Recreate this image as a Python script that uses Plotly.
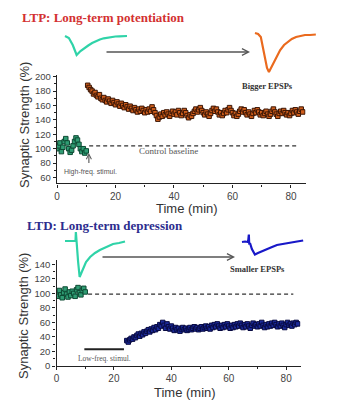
import plotly.graph_objects as go

W, H = 356, 411

# ---------------- data ----------------
sample_step = 0.5  # min between points

ltp_base_start = 0.0
ltp_base_vals = [100, 104, 108, 96, 102, 110, 114, 108, 100, 95, 98, 104, 110, 115,
                 112, 106, 100, 96, 100, 94, 97]

ltp_after_start = 10.5
ltp_after_vals = [188, 185, 182, 180, 176, 178, 174, 172, 175, 170, 168, 171, 167, 165,
                  169, 166, 163, 167, 164, 161, 165, 162, 159, 163, 160, 157, 161, 158,
                  155, 159, 156, 153, 157, 154, 151, 155, 152, 156, 153, 150, 154, 151,
                  155, 152, 158, 154, 150, 146, 141, 144, 148, 145, 150, 147, 151, 148,
                  145, 149, 152, 148, 151, 147, 153, 150, 146, 149, 153, 150, 146, 143,
                  147, 145, 149, 152, 155, 151, 154, 157, 153, 150, 147, 151, 148, 145,
                  149, 153, 156, 152, 155, 151, 147, 150, 146, 149, 153, 150, 154, 157,
                  153, 150, 146, 149, 145, 148, 152, 155, 151, 154, 150, 147, 151, 148,
                  145, 149, 153, 150, 154, 151, 147, 150, 146, 149, 152, 148, 145, 148,
                  152, 155, 151, 148, 145, 149, 152, 149, 153, 150, 147, 150, 146, 149,
                  153, 150, 154, 151, 148, 152, 155, 151]

ltd_base_start = 0.0
ltd_base_vals = [100, 96, 104, 98, 94, 101, 106, 99, 95, 102, 97, 103, 100, 96, 105,
                 108, 101, 98, 104, 107, 102]

ltd_after_start = 24.5
ltd_after_vals = [35, 33, 36, 38, 37, 40, 39, 42, 44, 41, 45, 43, 47, 45, 48, 50, 47, 51,
                  49, 53, 50, 54, 52, 57, 55, 60, 56, 52, 58, 54, 51, 55, 52, 49, 53, 50,
                  52, 48, 51, 53, 50, 52, 49, 51, 53, 50, 52, 54, 51, 53, 50, 52, 54, 51,
                  53, 55, 52, 54, 51, 56, 53, 57, 54, 58, 55, 52, 56, 53, 57, 54, 58, 55,
                  52, 56, 53, 57, 54, 58, 55, 59, 56, 53, 57, 54, 58, 55, 52, 56, 59, 55,
                  57, 54, 58, 55, 60, 56, 53, 57, 54, 58, 55, 59, 56, 60, 57, 54, 58, 55,
                  59, 56, 53, 57, 60, 56, 58, 55, 59, 57, 60, 58]

baseline_top = 104
baseline_bottom = 99
baseline_span = [11, 82.5]
lowfreq_span = [9.7, 23.5]
lowfreq_level = 23

# EPSP waveforms (time in ms, amplitude relative to resting level)
epsp_ltp_before_t = [0, 1, 2, 3, 4, 5, 6, 7, 8, 9, 10, 11, 12, 13, 14, 15, 16]
epsp_ltp_before_v = [0, -2, -9, -19, -15, -12, -9.5, -7, -5, -3.5, -2.3, -1.5, -1, -0.5,
                     -0.3, -0.2, 0]
epsp_ltp_after_t = [0, 0.8, 1.5, 2.3, 3.1, 3.6, 4.4, 5.4, 6.5, 7.5, 8.5, 9.5, 10.6, 11.6,
                    12.9, 14.2, 15.7]
epsp_ltp_after_v = [2, 1, -2, -17, -33, -37, -31, -22, -15, -10, -7, -4, -2, -1, 0, 0, 0.5]
epsp_ltd_before_t = [0, 1.1, 2.1, 2.8, 2.9, 3.1, 3.5, 3.9, 4.5, 5.6, 6.7, 8, 9.3, 10.9,
                     12.8, 14.4, 16]
epsp_ltd_before_v = [0.5, 0.5, 0, 0.5, 9.5, -2.5, -20.5, -35.5, -30.5, -20.5, -15.5,
                     -11.5, -8.5, -5.5, -2.5, -1.5, 0]
epsp_ltd_after_t = [0, 0.8, 1.6, 1.8, 1.9, 2.1, 2.6, 3.4, 4.2, 5.3, 6.3, 7.6, 9.2, 11.1,
                    12.6, 14.5, 16.1]
epsp_ltd_after_v = [-0.5, 0, -0.5, 7, -3, -1.5, -7.5, -13, -11.5, -9.5, -8, -6, -3.5,
                    -2, -0.8, 0, 1]

x_ticks = [0, 20, 40, 60, 80]
top_y_ticks = [60, 80, 100, 120, 140, 160, 180, 200]
bot_y_ticks = [0, 20, 40, 60, 80, 100, 120, 140]


def times(start, vals):
    return [start + sample_step * i for i in range(len(vals))]


# ---------------- helpers (layout only) ----------------
def px(x0, x1):
    return [x0 / W, x1 / W]


def py(ytop, ybot):
    return [1 - ybot / H, 1 - ytop / H]


SANS = "Liberation Sans, Arial, sans-serif"
SERIF = "Liberation Serif, Times New Roman, serif"
AX = "#222"

fig = go.Figure()

green_marker = dict(symbol="square", size=4.5, color="#2f9c73", line=dict(color="#0d4a33", width=1))
orange_marker = dict(symbol="square", size=4.5, color="#cf5e1c", line=dict(color="#3b1606", width=1))
blue_marker = dict(symbol="square", size=4.5, color="#1b2a9a", line=dict(color="#080a40", width=1))

fig.add_trace(go.Scatter(x=times(ltp_base_start, ltp_base_vals), y=ltp_base_vals, mode="markers",
                         marker=green_marker, xaxis="x", yaxis="y"))
fig.add_trace(go.Scatter(x=times(ltp_after_start, ltp_after_vals), y=ltp_after_vals, mode="markers",
                         marker=orange_marker, xaxis="x", yaxis="y"))
fig.add_trace(go.Scatter(x=times(ltd_base_start, ltd_base_vals), y=ltd_base_vals, mode="markers",
                         marker=green_marker, xaxis="x2", yaxis="y2"))
fig.add_trace(go.Scatter(x=times(ltd_after_start, ltd_after_vals), y=ltd_after_vals, mode="markers",
                         marker=blue_marker, xaxis="x2", yaxis="y2"))

# EPSP traces, each on its own small hidden axes
epsps = [
    (epsp_ltp_before_t, epsp_ltp_before_v, "#2fd3a8", 65, 3.875, 36),
    (epsp_ltp_after_t, epsp_ltp_after_v, "#ea6a1e", 255, 3.875, 35),
    (epsp_ltd_before_t, epsp_ltd_before_v, "#2fd3a8", 65, 3.75, 241.5),
    (epsp_ltd_after_t, epsp_ltd_after_v, "#1818c8", 242, 3.8, 241.5),
]
layout_extra = {}
for k, (t, v, col, x0, scale, base) in enumerate(epsps):
    n = k + 3
    fig.add_trace(go.Scatter(x=t, y=v, mode="lines", line=dict(color=col, width=2.2),
                             xaxis=f"x{n}", yaxis=f"y{n}"))
    pad = 3
    xr = [t[0] - pad / scale, t[-1] + pad / scale]
    xd = px(x0 - pad, x0 + (t[-1] - t[0]) * scale + pad)
    yr = [min(v) - pad, max(v) + pad]
    yd = py(base - yr[1], base - yr[0])
    layout_extra[f"xaxis{n}"] = dict(domain=xd, range=xr, visible=False, anchor=f"y{n}")
    layout_extra[f"yaxis{n}"] = dict(domain=yd, range=yr, visible=False, anchor=f"x{n}")


def xax(domain, anchor):
    return dict(domain=domain, range=[0, 85], anchor=anchor, tickvals=x_ticks,
                showline=True, linecolor=AX, linewidth=1.4, ticks="outside", ticklen=3,
                tickcolor=AX, showgrid=False, zeroline=False, automargin=False,
                minor=dict(dtick=10, tick0=0, ticks="outside", ticklen=2, tickcolor=AX),
                tickfont=dict(family=SANS, size=10, color="#444"))


def yax(domain, rng, ticks, anchor):
    return dict(domain=domain, range=rng, anchor=anchor, tickvals=ticks,
                showline=True, linecolor=AX, linewidth=1.4, ticks="outside", ticklen=3,
                tickcolor=AX, showgrid=False, zeroline=False, automargin=False,
                minor=dict(dtick=10, tick0=0, ticks="outside", ticklen=2, tickcolor=AX),
                tickfont=dict(family=SANS, size=9.5, color="#444"))


def note(text, x, y, size, family, color, xanchor="center", angle=0):
    return dict(text=text, x=x / W, y=1 - y / H, xref="paper", yref="paper",
                xanchor=xanchor, yanchor="middle", showarrow=False, textangle=angle,
                font=dict(family=family, size=size, color=color))


annotations = [
    note("<b>LTP: Long-term potentiation</b>", 20, 18, 13, SERIF, "#d33131", xanchor="left"),
    note("<b>LTD: Long-term depression</b>", 25, 225, 13, SERIF, "#2d2d8e", xanchor="left"),
    note("Synaptic Strength (%)", 25, 125, 13, SANS, "#333", angle=-90),
    note("Synaptic Strength (%)", 23, 316, 13, SANS, "#333", angle=-90),
    note("Time (min)", 187, 208, 13, SANS, "#333"),
    note("Time (min)", 185, 392, 13, SANS, "#333"),
    note("<b>Bigger EPSPs</b>", 267, 86, 8.5, SERIF, "#333"),
    note("<b>Smaller EPSPs</b>", 257, 269, 8.5, SERIF, "#333"),
    # arrows between EPSPs
    dict(x=250 / W, y=1 - 52 / H, xref="paper", yref="paper", ax=-145, ay=0, text="",
         showarrow=True, arrowhead=5, arrowsize=1, arrowwidth=1.3, arrowcolor="#555"),
    dict(x=235 / W, y=1 - 257 / H, xref="paper", yref="paper", ax=-134, ay=0, text="",
         showarrow=True, arrowhead=5, arrowsize=1, arrowwidth=1.3, arrowcolor="#555"),
    # labels in data panels
    dict(text="Control baseline", x=27.2, y=baseline_top - 7, xref="x", yref="y",
         xanchor="left", yanchor="middle", showarrow=False,
         font=dict(family=SERIF, size=9, color="#555")),
    dict(text="High-freq. stimul.", x=1.6, y=67, xref="x", yref="y", xanchor="left",
         yanchor="middle", showarrow=False, font=dict(family=SANS, size=7, color="#555")),
    dict(x=10.9, y=94, ax=10.9, ay=78, xref="x", yref="y", axref="x", ayref="y", text="",
         showarrow=True, arrowhead=5, arrowsize=0.9, arrowwidth=1.1, arrowcolor="#555"),
    dict(text="Low-freq. stimul.", x=16.6, y=10.5, xref="x2", yref="y2", xanchor="center",
         yanchor="middle", showarrow=False, font=dict(family=SERIF, size=7.5, color="#555")),
]

shapes = [
    dict(type="line", xref="x", yref="y", x0=baseline_span[0], x1=baseline_span[1],
         y0=baseline_top, y1=baseline_top, line=dict(color="#333", width=1.2, dash="4px,3px")),
    dict(type="line", xref="x2", yref="y2", x0=baseline_span[0], x1=baseline_span[1],
         y0=baseline_bottom, y1=baseline_bottom, line=dict(color="#333", width=1.2, dash="4px,3px")),
    dict(type="line", xref="x2", yref="y2", x0=lowfreq_span[0], x1=lowfreq_span[1],
         y0=lowfreq_level, y1=lowfreq_level, line=dict(color="#222", width=2)),
]

fig.update_layout(
    width=W, height=H, margin=dict(l=0, r=0, t=0, b=0, autoexpand=False),
    paper_bgcolor="white", plot_bgcolor="rgba(0,0,0,0)", showlegend=False,
    xaxis=xax(px(57, 305.6), "y"),
    yaxis=yax(py(74.5, 183.3), [52, 203], top_y_ticks, "x"),
    xaxis2=xax(px(56.5, 300.5), "y2"),
    yaxis2=yax(py(260, 366), [0, 146], bot_y_ticks, "x2"),
    annotations=annotations, shapes=shapes,
    **layout_extra,
)

fig.write_html("out.html", config={"displayModeBar": False},
               post_script="document.body.style.margin='0';document.body.style.padding='0';"
                           "document.body.style.overflow='hidden';")
